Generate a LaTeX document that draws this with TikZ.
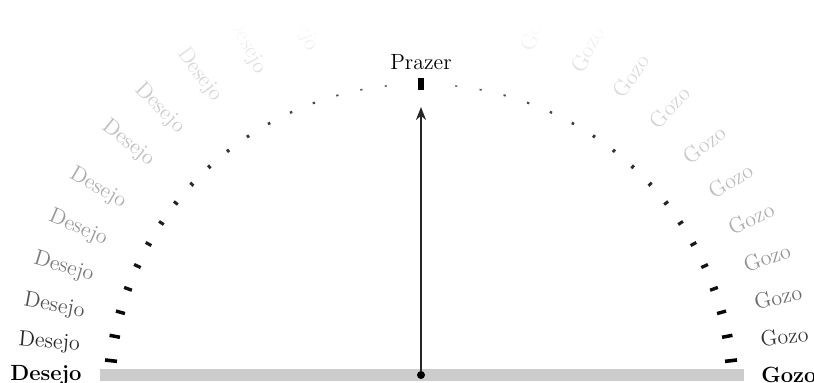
\documentclass[tikz,border=0pt]{standalone}
\usepackage{tikz}
\usetikzlibrary{arrows.meta,positioning,calc}
\tikzset{
  wish/.style={font=\fontsize{11}{13}\selectfont, inner sep=0pt, anchor=east},
  joy/.style={font=\fontsize{11}{13}\selectfont, inner sep=0pt, anchor=west},
  marktick/.style={draw=black, line cap=butt},
  topmark/.style={rectangle, fill=black, minimum width=2.6pt, minimum height=5.6pt, inner sep=0pt},
  base/.style={circle, fill=black, minimum size=4pt, inner sep=0pt},
  rise/.style={-{Stealth[length=6.5pt, width=5pt]}, line width=0.9pt, draw=black!85},
  bar/.style={fill=black!20},
}

\begin{document}
\begin{tikzpicture}[x=0.5pt, y=0.5pt]
  \useasboundingbox (0,0) rectangle (814,383);
  \coordinate (O) at (421,8);   % base point
  \coordinate (C) at (421,-13); % centre of the dotted arc
  \fill[bar] (100,2) rectangle (744,14);

  % labels
  \node[wish, font=\fontsize{11}{13}\selectfont\bfseries] (desejo0) at ($(O)+(180:339)$) {Desejo};
  \node[joy, font=\fontsize{11}{13}\selectfont\bfseries] (gozo0) at ($(O)+(0:340)$) {Gozo};
  \foreach \a/\c [count=\i] in {5.0/85, 10.6/68, 16.8/52, 23.2/40, 30.0/32, 38.4/25, 45.6/20, 53.6/16, 62.2/13, 71.4/12}
    \node[wish, rotate=-\a, text=black!\c] (desejo\i) at ($(O)+(180-\a:342)$) {Desejo};
  \foreach \a/\c [count=\i] in {6.1/80, 12.3/58, 18.8/42, 25.4/32, 32.1/26, 39.1/21, 47.1/17, 54.9/14, 62.9/12, 72/11}
    \node[joy, rotate=\a, text=black!\c] (gozo\i) at ($(O)+(\a:341)$) {Gozo};
  % fade the labels out towards the top edge
  \foreach \j in {0,...,19}
    \fill[white, fill opacity=(\j+1)/21] (0,318+2*\j) rectangle (814,320+2*\j);
  \fill[white] (0,358) rectangle (814,383);

  % dotted arc
  \foreach \k in {0,...,17}{
    \pgfmathsetmacro\a{6.5+4.53*\k}
    \pgfmathsetmacro\l{12*exp(-0.125*\k)}
    \pgfmathsetmacro\w{0.5*(3.6-0.09*\k)}
    \pgfmathsetmacro\o{1-0.02*\k}
    \draw[marktick, line width=\w pt, draw opacity=\o]
      ($(C)+(180-\a:312-\l/2)$) -- ($(C)+(180-\a:312+\l/2)$);
    \draw[marktick, line width=\w pt, draw opacity=\o]
      ($(C)+(\a:312-\l/2)$) -- ($(C)+(\a:312+\l/2)$);
  }

  % centre line
  \node[base] (start) at (O) {};
  \node[topmark] (peak) at ($(C)+(90:312)$) {};
  \node[above=4pt of peak, inner sep=0pt, font=\fontsize{11}{13}\selectfont] (prazer) {Prazer};
  \coordinate (tip) at (421,276);
  \draw[rise] (start) -- (tip);
\end{tikzpicture}
\end{document}
